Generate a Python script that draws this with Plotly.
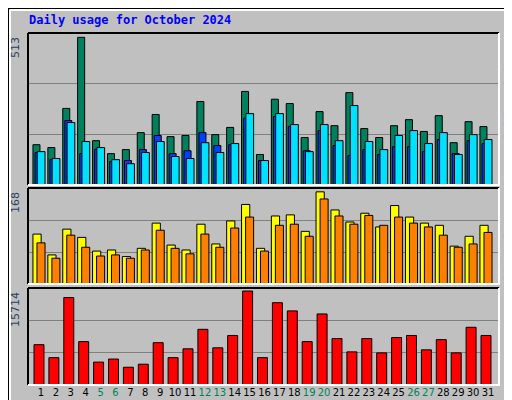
import plotly.graph_objects as go

days = list(range(1, 32))
hits = [140,130,266,513,154,109,123,182,245,168,172,290,175,200,325,106,298,283,165,255,206,321,196,165,206,227,186,241,147,220,203]
files = [113,89,224,109,124,81,85,123,172,109,119,182,137,140,232,85,238,203,119,189,137,102,123,106,133,133,116,158,109,154,144]
pages = [116,92,217,151,130,88,74,113,151,99,92,147,113,144,248,85,248,210,116,210,154,276,151,123,172,189,144,182,106,175,158]
visits = [91,53,100,85,60,62,50,65,111,71,62,109,73,115,145,65,124,126,96,168,135,113,129,104,143,122,111,107,69,87,107]
sites = [75,47,89,67,51,53,47,62,98,65,55,91,67,102,122,60,107,109,87,155,124,109,125,107,122,111,104,89,67,73,94]
kbytes = [6740,4570,14620,7250,3830,4340,2970,3480,7080,4570,6050,9310,6220,8280,15714,4570,13760,12390,7250,11880,7770,5540,7770,5370,7940,8280,5880,7590,5370,9650,8280]
weekend = [5,6,12,13,19,20,26,27]
tick_text = [f"<span style='color:#00805C'>{d}</span>" if d in weekend else str(d) for d in days]

W, H = 512, 400
def py(y):
    return 1 - y / H
def px(x):
    return x / W

fig = go.Figure()
line = dict(color="black", width=1)
def bar(y, color, off, wid, xa, ya):
    fig.add_trace(go.Bar(x=days, y=y, marker=dict(color=color, line=line), offset=off, width=wid,
                         xaxis=xa, yaxis=ya, showlegend=False, hoverinfo="skip"))

bar(hits, "#00805C", -0.54, 0.47, "x", "y")
bar(files, "#0040FF", -0.40, 0.47, "x", "y")
bar(pages, "#00E0FF", -0.25, 0.52, "x", "y")
bar(visits, "#FFFF00", -0.54, 0.55, "x2", "y2")
bar(sites, "#FF8000", -0.27, 0.54, "x2", "y2")
bar(kbytes, "#FF0000", -0.47, 0.67, "x3", "y3")

xr = [1 - 13/14.9, 31 + 11/14.9]
xdom = [px(20), px(491)]
font = dict(family="DejaVu Sans", size=10, color="black")
def xa(show):
    d = dict(domain=xdom, range=xr, showgrid=False, zeroline=False, showline=False, fixedrange=True)
    if show:
        d.update(tickmode="array", tickvals=days, ticktext=tick_text, ticks="", tickfont=font, tickangle=0)
    else:
        d.update(showticklabels=False, ticks="")
    return d
def ya(dom, mx):
    return dict(domain=dom, range=[0, mx], tickmode="array", tickvals=[mx/3, 2*mx/3], showticklabels=False,
                showgrid=True, gridcolor="#808080", gridwidth=1, zeroline=False, showline=False, ticks="")

panels = [(25, 177, 528), (180, 276, 175), (280, 377, 16220)]
fig.update_layout(
    width=W, height=H, margin=dict(l=0, r=0, t=0, b=0),
    paper_bgcolor="#C0C0C0", plot_bgcolor="#C0C0C0", barmode="overlay",
    xaxis=xa(False), xaxis2=xa(False), xaxis3=xa(True),
    yaxis=ya([py(177), py(25)], 528), yaxis2=ya([py(276), py(180)], 175), yaxis3=ya([py(377), py(280)], 16220),
)
fig.update_layout(xaxis2_anchor="y2", xaxis3_anchor="y3", yaxis2_anchor="x2", yaxis3_anchor="x3")

shapes = []
for top, bot, _ in panels:
    shapes += [
        dict(type="line", xref="paper", yref="paper", x0=px(20), x1=px(491), y0=py(top), y1=py(top), line=dict(color="black", width=2)),
        dict(type="line", xref="paper", yref="paper", x0=px(20), x1=px(20), y0=py(top), y1=py(bot), line=dict(color="black", width=2)),
        dict(type="line", xref="paper", yref="paper", x0=px(20), x1=px(492), y0=py(bot), y1=py(bot), line=dict(color="white", width=2)),
        dict(type="line", xref="paper", yref="paper", x0=px(491), x1=px(491), y0=py(top), y1=py(bot), line=dict(color="white", width=2)),
    ]
shapes += [
    dict(type="rect", xref="paper", yref="paper", x0=0, x1=1, y0=0, y1=1, line=dict(color="black", width=2)),
    dict(type="line", xref="paper", yref="paper", x0=px(2), x1=px(505), y0=py(2), y1=py(2), line=dict(color="white", width=2)),
    dict(type="line", xref="paper", yref="paper", x0=px(2), x1=px(2), y0=py(2), y1=py(393), line=dict(color="white", width=2)),
    dict(type="rect", xref="paper", yref="paper", x0=px(506), x1=px(511), y0=py(398), y1=py(4), fillcolor="#808080", line=dict(width=0)),
    dict(type="rect", xref="paper", yref="paper", x0=px(4), x1=px(511), y0=py(398), y1=py(394), fillcolor="#808080", line=dict(width=0)),
]
fig.update_layout(shapes=shapes)

mono = "DejaVu Sans Mono"
ann = [
    dict(x=px(19), y=py(3), text="<b>Daily usage for October 2024</b>", xanchor="left", yanchor="top",
         font=dict(family=mono, size=12, color="#0000FF")),
    dict(x=px(16), y=py(27), text="513", textangle=-90, xanchor="right", yanchor="top", font=dict(family="DejaVu Sans", size=11)),
    dict(x=px(16), y=py(182), text="168", textangle=-90, xanchor="right", yanchor="top", font=dict(family="DejaVu Sans", size=11)),
    dict(x=px(16), y=py(282), text="15714", textangle=-90, xanchor="right", yanchor="top", font=dict(family="DejaVu Sans", size=11)),
    dict(x=px(492), y=py(175), textangle=-90, xanchor="left", yanchor="bottom",
         text="<span style='color:#00E0FF'>Pages</span> / <span style='color:#0040FF'>Files</span> / <span style='color:#00805C'>Hits</span>",
         font=dict(family=mono, size=11, color="black")),
    dict(x=px(492), y=py(275), textangle=-90, xanchor="left", yanchor="bottom",
         text="<span style='color:#FF8000'>Sites</span> / <span style='color:#FFFF00'>Visits</span>",
         font=dict(family=mono, size=11, color="black")),
    dict(x=px(492), y=py(376), textangle=-90, xanchor="left", yanchor="bottom",
         text="KBytes", font=dict(family=mono, size=11, color="#FF0000")),
]
for a in ann:
    a.update(xref="paper", yref="paper", showarrow=False)
fig.update_layout(annotations=ann)

fig.write_html("out.html")
